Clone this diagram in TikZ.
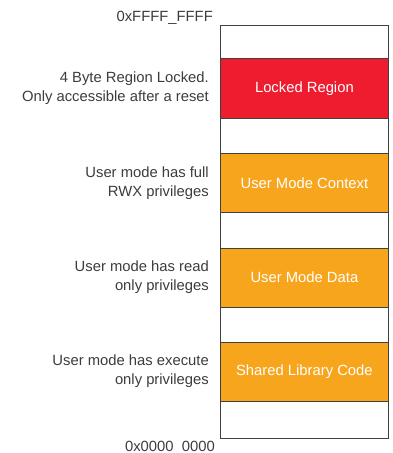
\documentclass[tikz,border=0pt]{standalone}
\usepackage{fontspec}
\setmainfont{Liberation Sans}
\usetikzlibrary{positioning}
\definecolor{lockred}{RGB}{237,28,46}
\definecolor{userorange}{RGB}{248,165,30}
\definecolor{labelgray}{RGB}{60,60,60}

\begin{document}
\begin{tikzpicture}[x=1pt,y=-1pt,
	region/.style={draw=black!75, line width=0.8pt, minimum width=168pt, inner sep=0pt, anchor=north west, text=white, font=\fontsize{14.8}{19}\selectfont},
	note/.style={align=right, inner sep=0pt, text=labelgray, font=\fontsize{14.8}{19}\selectfont}]
	\useasboundingbox (0,0) rectangle (393,453);
	% memory map
	\node[region, minimum height=413pt] (memory) at (220,25) {};
	\node[region, fill=lockred, minimum height=59.4pt] (locked) at (220,58.3) {Locked Region};
	\node[region, fill=userorange, minimum height=59pt] (context) at (220,153.3) {User Mode Context};
	\node[region, fill=userorange, minimum height=59pt] (data) at (220,247.7) {User Mode Data};
	\node[region, fill=userorange, minimum height=59pt] (shared) at (220,341.7) {Shared Library Code};
	% addresses
	\node[note, anchor=base east] (top) at (213,21.5) {0xFFFF\_FFFF};
	\node[note, anchor=base east] (bottom) at (215,451) {0x0000~~0000};
	% privileges
	\node[note, left=11pt of locked] (lockednote) {4 Byte Region Locked.\\Only accessible after a reset};
	\node[note, left=11pt of context] (contextnote) {User mode has full\\RWX privileges};
	\node[note, left=11pt of data] (datanote) {User mode has read\\only privileges};
	\node[note, left=11pt of shared] (sharednote) {User mode has execute\\only privileges};
\end{tikzpicture}
\end{document}
